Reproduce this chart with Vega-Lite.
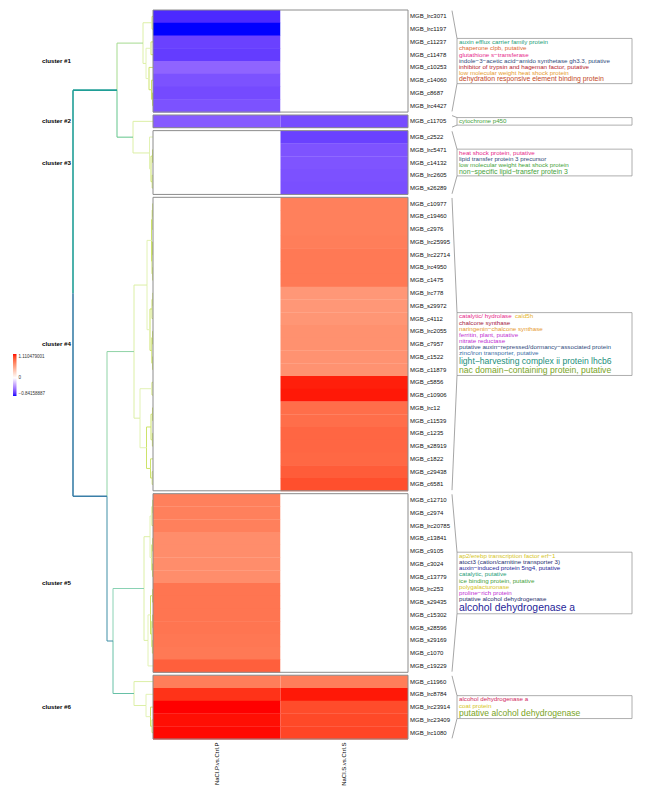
{
"$schema": "https://vega.github.io/schema/vega-lite/v6.json",
"background": "white",
"padding": {"left": 0, "top": 9, "right": 0, "bottom": 0},
"spacing": 0,
"bounds": "flush",
"resolve": {"scale": {"x": "independent", "y": "independent", "color": "independent"}, "legend": {"color": "independent"}},
"datasets": {
"rows": [
{"g":"MGB_lrc3071","cl":1,"i":0,"P":-0.757,"S":0},
{"g":"MGB_lrc1197","cl":1,"i":1,"P":-0.8415,"S":0},
{"g":"MGB_c11237","cl":1,"i":2,"P":-0.682,"S":0},
{"g":"MGB_c11478","cl":1,"i":3,"P":-0.699,"S":0},
{"g":"MGB_c10253","cl":1,"i":4,"P":-0.555,"S":0},
{"g":"MGB_c14060","cl":1,"i":5,"P":-0.623,"S":0},
{"g":"MGB_c8687","cl":1,"i":6,"P":-0.648,"S":0},
{"g":"MGB_lrc4427","cl":1,"i":7,"P":-0.623,"S":0},
{"g":"MGB_c11705","cl":2,"i":8,"P":-0.589,"S":-0.644},
{"g":"MGB_c2522","cl":3,"i":9,"P":0,"S":-0.682},
{"g":"MGB_lrc5471","cl":3,"i":10,"P":0,"S":-0.618},
{"g":"MGB_c14132","cl":3,"i":11,"P":0,"S":-0.615},
{"g":"MGB_lrc2605","cl":3,"i":12,"P":0,"S":-0.625},
{"g":"MGB_s26289","cl":3,"i":13,"P":0,"S":-0.632},
{"g":"MGB_c10977","cl":4,"i":14,"P":0,"S":0.722},
{"g":"MGB_c19460","cl":4,"i":15,"P":0,"S":0.722},
{"g":"MGB_c2976","cl":4,"i":16,"P":0,"S":0.722},
{"g":"MGB_lrc25995","cl":4,"i":17,"P":0,"S":0.733},
{"g":"MGB_lrc22714","cl":4,"i":18,"P":0,"S":0.755},
{"g":"MGB_lrc4950","cl":4,"i":19,"P":0,"S":0.755},
{"g":"MGB_c1475","cl":4,"i":20,"P":0,"S":0.755},
{"g":"MGB_lrc778","cl":4,"i":21,"P":0,"S":0.600},
{"g":"MGB_s29972","cl":4,"i":22,"P":0,"S":0.600},
{"g":"MGB_c4112","cl":4,"i":23,"P":0,"S":0.605},
{"g":"MGB_lrc2055","cl":4,"i":24,"P":0,"S":0.633},
{"g":"MGB_c7957","cl":4,"i":25,"P":0,"S":0.633},
{"g":"MGB_c1522","cl":4,"i":26,"P":0,"S":0.627},
{"g":"MGB_c11879","cl":4,"i":27,"P":0,"S":0.627},
{"g":"MGB_c5856","cl":4,"i":28,"P":0,"S":1.077},
{"g":"MGB_c10906","cl":4,"i":29,"P":0,"S":1.088},
{"g":"MGB_lrc12","cl":4,"i":30,"P":0,"S":0.811},
{"g":"MGB_c11539","cl":4,"i":31,"P":0,"S":0.811},
{"g":"MGB_c1235","cl":4,"i":32,"P":0,"S":0.844},
{"g":"MGB_s28919","cl":4,"i":33,"P":0,"S":0.844},
{"g":"MGB_c1822","cl":4,"i":34,"P":0,"S":0.838},
{"g":"MGB_c29438","cl":4,"i":35,"P":0,"S":0.888},
{"g":"MGB_c6581","cl":4,"i":36,"P":0,"S":0.944},
{"g":"MGB_c12710","cl":5,"i":37,"P":0.722,"S":0},
{"g":"MGB_c2974","cl":5,"i":38,"P":0.722,"S":0},
{"g":"MGB_lrc20785","cl":5,"i":39,"P":0.722,"S":0},
{"g":"MGB_c13841","cl":5,"i":40,"P":0.655,"S":0},
{"g":"MGB_c9105","cl":5,"i":41,"P":0.655,"S":0},
{"g":"MGB_c3024","cl":5,"i":42,"P":0.655,"S":0},
{"g":"MGB_c13779","cl":5,"i":43,"P":0.655,"S":0},
{"g":"MGB_lrc253","cl":5,"i":44,"P":0.777,"S":0},
{"g":"MGB_s29435","cl":5,"i":45,"P":0.777,"S":0},
{"g":"MGB_c15302","cl":5,"i":46,"P":0.777,"S":0},
{"g":"MGB_s28596","cl":5,"i":47,"P":0.777,"S":0},
{"g":"MGB_s29169","cl":5,"i":48,"P":0.766,"S":0},
{"g":"MGB_c1070","cl":5,"i":49,"P":0.755,"S":0},
{"g":"MGB_c19229","cl":5,"i":50,"P":0.877,"S":0},
{"g":"MGB_c11960","cl":6,"i":51,"P":0.733,"S":0.733},
{"g":"MGB_lrc8784","cl":6,"i":52,"P":1.033,"S":1.088},
{"g":"MGB_lrc23914","cl":6,"i":53,"P":1.1104,"S":0.955},
{"g":"MGB_lrc23409","cl":6,"i":54,"P":1.099,"S":0.966},
{"g":"MGB_lrc1080","cl":6,"i":55,"P":1.104,"S":0.977}
],
"clusters": [
{"cl":1,"first":0,"last":7,"lab":"cluster #1"},
{"cl":2,"first":8,"last":8,"lab":"cluster #2"},
{"cl":3,"first":9,"last":13,"lab":"cluster #3"},
{"cl":4,"first":14,"last":36,"lab":"cluster #4"},
{"cl":5,"first":37,"last":50,"lab":"cluster #5"},
{"cl":6,"first":51,"last":55,"lab":"cluster #6"}
],
"ann": [
{"cl":1,"k":0,"txt":"auxin efflux carrier family protein","n":1,"c":"teal"},
{"cl":1,"k":1,"txt":"chaperone clpb, putative","n":1,"c":"orange"},
{"cl":1,"k":2,"txt":"glutathione s−transferase","n":1,"c":"magenta"},
{"cl":1,"k":3,"txt":"indole−3−acetic acid−amido synthetase gh3.3, putative","n":1,"c":"slate"},
{"cl":1,"k":4,"txt":"inhibitor of trypsin and hageman factor, putative","n":1,"c":"crimson"},
{"cl":1,"k":5,"txt":"low molecular weight heat shock protein","n":1,"c":"amber"},
{"cl":1,"k":6,"txt":"dehydration responsive element binding protein","n":2,"c":"rust"},
{"cl":2,"k":0,"txt":"cytochrome p450","n":1,"c":"green"},
{"cl":3,"k":0,"txt":"heat shock protein, putative","n":1,"c":"magenta"},
{"cl":3,"k":1,"txt":"lipid transfer protein 3 precursor","n":1,"c":"slate"},
{"cl":3,"k":2,"txt":"low molecular weight heat shock protein","n":1,"c":"green"},
{"cl":3,"k":3,"txt":"non−specific lipid−transfer protein 3","n":2,"c":"green"},
{"cl":4,"k":0,"txt":"catalytic/ hydrolase","n":1,"c":"magenta","t2":"cald5h","c2":"gold"},
{"cl":4,"k":1,"txt":"chalcone synthase","n":1,"c":"darkred"},
{"cl":4,"k":2,"txt":"naringenin−chalcone synthase","n":1,"c":"amber"},
{"cl":4,"k":3,"txt":"ferritin, plant, putative","n":1,"c":"purple"},
{"cl":4,"k":4,"txt":"nitrate reductase","n":1,"c":"purple"},
{"cl":4,"k":5,"txt":"putative auxin−repressed/dormancy−associated protein","n":1,"c":"slate"},
{"cl":4,"k":6,"txt":"zinc/iron transporter, putative","n":1,"c":"steel"},
{"cl":4,"k":7,"txt":"light−harvesting complex ii protein lhcb6","n":3,"c":"teal2"},
{"cl":4,"k":8,"txt":"nac domain−containing protein, putative","n":3,"c":"olive"},
{"cl":5,"k":0,"txt":"ap2/erebp transcription factor erf−1","n":1,"c":"yellow"},
{"cl":5,"k":1,"txt":"atoct3 (cation/carnitine transporter 3)","n":1,"c":"navy"},
{"cl":5,"k":2,"txt":"auxin−induced protein 5ng4, putative","n":1,"c":"indigo"},
{"cl":5,"k":3,"txt":"catalytic, putative","n":1,"c":"teal"},
{"cl":5,"k":4,"txt":"ice binding protein, putative","n":1,"c":"green"},
{"cl":5,"k":5,"txt":"polygalacturonase","n":1,"c":"yellow"},
{"cl":5,"k":6,"txt":"proline−rich protein","n":1,"c":"purple"},
{"cl":5,"k":7,"txt":"putative alcohol dehydrogenase","n":1,"c":"navy"},
{"cl":5,"k":8,"txt":"alcohol dehydrogenase a","n":5,"c":"indigo"},
{"cl":6,"k":0,"txt":"alcohol dehydrogenase a","n":1,"c":"pink"},
{"cl":6,"k":1,"txt":"coat protein","n":1,"c":"yellow"},
{"cl":6,"k":2,"txt":"putative alcohol dehydrogenase","n":3,"c":"olive"}
],
"dend": [
{"hp":8,"hc":3.6,"ym":22.195,"yc":6.28,"t":"r1"},
{"hp":8,"hc":4.6,"ym":22.195,"yc":38.11,"t":"r2"},
{"hp":3.6,"hc":1.0,"ym":6.28,"yc":2.594,"t":"m1"},
{"hp":3.6,"hc":2.0,"ym":6.28,"yc":9.966,"t":"m2"},
{"hp":4.6,"hc":1.9,"ym":38.11,"yc":26.77,"t":"m3"},
{"hp":4.6,"hc":4.0,"ym":38.11,"yc":49.455,"t":"m4"},
{"hp":4.0,"hc":0.9,"ym":49.455,"yc":45.34,"t":"m5"},
{"hp":4.0,"hc":1.9,"ym":49.455,"yc":53.57,"t":"m6"},
{"hp":2.0,"hc":0,"ym":9.966,"yc":8.727,"t":"l1"},
{"hp":2.0,"hc":0.35,"ym":9.966,"yc":11.204,"t":"l1"},
{"hp":1.0,"hc":0.1,"ym":2.594,"yc":1.0,"t":"l1"},
{"hp":1.0,"hc":0.7,"ym":2.594,"yc":4.1875,"t":"l1"},
{"hp":0.1,"hc":0,"ym":1.0,"yc":0.5,"t":"l3"},
{"hp":0.1,"hc":0,"ym":1.0,"yc":1.5,"t":"l3"},
{"hp":0.7,"hc":0.2,"ym":4.1875,"yc":3.0,"t":"l2"},
{"hp":0.7,"hc":0.4,"ym":4.1875,"yc":5.375,"t":"l2"},
{"hp":0.2,"hc":0,"ym":3.0,"yc":2.5,"t":"l3"},
{"hp":0.2,"hc":0,"ym":3.0,"yc":3.5,"t":"l3"},
{"hp":0.4,"hc":0,"ym":5.375,"yc":4.5,"t":"l3"},
{"hp":0.4,"hc":0.15,"ym":5.375,"yc":6.25,"t":"l3"},
{"hp":0.15,"hc":0,"ym":6.25,"yc":5.5,"t":"l3"},
{"hp":0.15,"hc":0.05,"ym":6.25,"yc":7.0,"t":"l3"},
{"hp":0.05,"hc":0,"ym":7.0,"yc":6.5,"t":"l3"},
{"hp":0.05,"hc":0,"ym":7.0,"yc":7.5,"t":"l3"},
{"hp":0.35,"hc":0,"ym":11.204,"yc":9.954,"t":"l2"},
{"hp":0.35,"hc":0.2,"ym":11.204,"yc":12.454,"t":"l2"},
{"hp":0.2,"hc":0.05,"ym":12.454,"yc":11.454,"t":"l3"},
{"hp":0.2,"hc":0.08,"ym":12.454,"yc":13.454,"t":"l3"},
{"hp":0.05,"hc":0,"ym":11.454,"yc":10.954,"t":"l3"},
{"hp":0.05,"hc":0,"ym":11.454,"yc":11.954,"t":"l3"},
{"hp":0.08,"hc":0,"ym":13.454,"yc":12.954,"t":"l3"},
{"hp":0.08,"hc":0,"ym":13.454,"yc":13.954,"t":"l3"},
{"hp":1.9,"hc":0.6,"ym":26.77,"yc":21.556,"t":"l1"},
{"hp":1.9,"hc":1.3,"ym":26.77,"yc":31.99,"t":"l1"},
{"hp":0.6,"hc":0.15,"ym":21.556,"yc":18.056,"t":"l2"},
{"hp":0.6,"hc":0.3,"ym":21.556,"yc":25.056,"t":"l2"},
{"hp":0.15,"hc":0.08,"ym":18.056,"yc":16.431,"t":"l3"},
{"hp":0.15,"hc":0.1,"ym":18.056,"yc":19.681,"t":"l3"},
{"hp":0.08,"hc":0.03,"ym":16.431,"yc":15.681,"t":"l3"},
{"hp":0.08,"hc":0,"ym":16.431,"yc":17.181,"t":"l3"},
{"hp":0.03,"hc":0,"ym":15.681,"yc":15.181,"t":"l3"},
{"hp":0.03,"hc":0,"ym":15.681,"yc":16.181,"t":"l3"},
{"hp":0.1,"hc":0.04,"ym":19.681,"yc":18.681,"t":"l3"},
{"hp":0.1,"hc":0.03,"ym":19.681,"yc":20.681,"t":"l3"},
{"hp":0.04,"hc":0,"ym":18.681,"yc":18.181,"t":"l3"},
{"hp":0.04,"hc":0,"ym":18.681,"yc":19.181,"t":"l3"},
{"hp":0.03,"hc":0,"ym":20.681,"yc":20.181,"t":"l3"},
{"hp":0.03,"hc":0,"ym":20.681,"yc":21.181,"t":"l3"},
{"hp":0.3,"hc":0.1,"ym":25.056,"yc":23.431,"t":"l3"},
{"hp":0.3,"hc":0.12,"ym":25.056,"yc":26.681,"t":"l3"},
{"hp":0.1,"hc":0.02,"ym":23.431,"yc":22.681,"t":"l3"},
{"hp":0.1,"hc":0,"ym":23.431,"yc":24.181,"t":"l3"},
{"hp":0.02,"hc":0,"ym":22.681,"yc":22.181,"t":"l3"},
{"hp":0.02,"hc":0,"ym":22.681,"yc":23.181,"t":"l3"},
{"hp":0.12,"hc":0.05,"ym":26.681,"yc":25.681,"t":"l3"},
{"hp":0.12,"hc":0.04,"ym":26.681,"yc":27.681,"t":"l3"},
{"hp":0.05,"hc":0,"ym":25.681,"yc":25.181,"t":"l3"},
{"hp":0.05,"hc":0,"ym":25.681,"yc":26.181,"t":"l3"},
{"hp":0.04,"hc":0,"ym":27.681,"yc":27.181,"t":"l3"},
{"hp":0.04,"hc":0,"ym":27.681,"yc":28.181,"t":"l3"},
{"hp":1.3,"hc":0.1,"ym":31.99,"yc":29.681,"t":"l2"},
{"hp":1.3,"hc":0.65,"ym":31.99,"yc":34.306,"t":"l2"},
{"hp":0.1,"hc":0,"ym":29.681,"yc":29.181,"t":"l3"},
{"hp":0.1,"hc":0,"ym":29.681,"yc":30.181,"t":"l3"},
{"hp":0.65,"hc":0.2,"ym":34.306,"yc":32.681,"t":"l3"},
{"hp":0.65,"hc":0.25,"ym":34.306,"yc":35.931,"t":"l3"},
{"hp":0.2,"hc":0.05,"ym":32.681,"yc":31.681,"t":"l3"},
{"hp":0.2,"hc":0.06,"ym":32.681,"yc":33.681,"t":"l3"},
{"hp":0.05,"hc":0,"ym":31.681,"yc":31.181,"t":"l3"},
{"hp":0.05,"hc":0,"ym":31.681,"yc":32.181,"t":"l3"},
{"hp":0.06,"hc":0,"ym":33.681,"yc":33.181,"t":"l3"},
{"hp":0.06,"hc":0,"ym":33.681,"yc":34.181,"t":"l3"},
{"hp":0.25,"hc":0,"ym":35.931,"yc":35.181,"t":"l3"},
{"hp":0.25,"hc":0.08,"ym":35.931,"yc":36.681,"t":"l3"},
{"hp":0.08,"hc":0,"ym":36.681,"yc":36.181,"t":"l3"},
{"hp":0.08,"hc":0,"ym":36.681,"yc":37.181,"t":"l3"},
{"hp":0.9,"hc":0.3,"ym":45.34,"yc":41.28,"t":"l1"},
{"hp":0.9,"hc":0.5,"ym":45.34,"yc":49.408,"t":"l1"},
{"hp":0.3,"hc":0.1,"ym":41.28,"yc":39.658,"t":"l2"},
{"hp":0.3,"hc":0.12,"ym":41.28,"yc":42.908,"t":"l2"},
{"hp":0.1,"hc":0.03,"ym":39.658,"yc":38.908,"t":"l3"},
{"hp":0.1,"hc":0,"ym":39.658,"yc":40.408,"t":"l3"},
{"hp":0.03,"hc":0,"ym":38.908,"yc":38.408,"t":"l3"},
{"hp":0.03,"hc":0,"ym":38.908,"yc":39.408,"t":"l3"},
{"hp":0.12,"hc":0.04,"ym":42.908,"yc":41.908,"t":"l3"},
{"hp":0.12,"hc":0.05,"ym":42.908,"yc":43.908,"t":"l3"},
{"hp":0.04,"hc":0,"ym":41.908,"yc":41.408,"t":"l3"},
{"hp":0.04,"hc":0,"ym":41.908,"yc":42.408,"t":"l3"},
{"hp":0.05,"hc":0,"ym":43.908,"yc":43.408,"t":"l3"},
{"hp":0.05,"hc":0,"ym":43.908,"yc":44.408,"t":"l3"},
{"hp":0.5,"hc":0.25,"ym":49.408,"yc":47.408,"t":"l2"},
{"hp":0.5,"hc":0,"ym":49.408,"yc":51.408,"t":"l2"},
{"hp":0.25,"hc":0.05,"ym":47.408,"yc":45.908,"t":"l3"},
{"hp":0.25,"hc":0.12,"ym":47.408,"yc":48.908,"t":"l3"},
{"hp":0.05,"hc":0,"ym":45.908,"yc":45.408,"t":"l3"},
{"hp":0.05,"hc":0,"ym":45.908,"yc":46.408,"t":"l3"},
{"hp":0.12,"hc":0.04,"ym":48.908,"yc":47.908,"t":"l3"},
{"hp":0.12,"hc":0.06,"ym":48.908,"yc":49.908,"t":"l3"},
{"hp":0.04,"hc":0,"ym":47.908,"yc":47.408,"t":"l3"},
{"hp":0.04,"hc":0,"ym":47.908,"yc":48.408,"t":"l3"},
{"hp":0.06,"hc":0,"ym":49.908,"yc":49.408,"t":"l3"},
{"hp":0.06,"hc":0,"ym":49.908,"yc":50.408,"t":"l3"},
{"hp":1.9,"hc":0,"ym":53.57,"yc":52.635,"t":"l1"},
{"hp":1.9,"hc":0.7,"ym":53.57,"yc":54.51,"t":"l1"},
{"hp":0.7,"hc":0,"ym":54.51,"yc":53.635,"t":"l2"},
{"hp":0.7,"hc":0.25,"ym":54.51,"yc":55.385,"t":"l2"},
{"hp":0.25,"hc":0,"ym":55.385,"yc":54.635,"t":"l3"},
{"hp":0.25,"hc":0.1,"ym":55.385,"yc":56.135,"t":"l3"},
{"hp":0.1,"hc":0,"ym":56.135,"yc":55.635,"t":"l3"},
{"hp":0.1,"hc":0,"ym":56.135,"yc":56.635,"t":"l3"}
]
},
"hconcat": [
{
"width": 153, "height": 729,
"layer": [
{"data": {"name": "dend"}, "mark": {"type": "rule"},
 "encoding": {
  "x": {"field": "hp", "type": "quantitative", "scale": {"domain": [0, 15.3], "reverse": true, "nice": false, "zero": false}, "axis": null},
  "y": {"field": "ym", "type": "quantitative", "scale": {"domain": [0, 57.135], "reverse": true, "nice": false, "zero": false}, "axis": null},
  "y2": {"field": "yc"},
  "color": {"field": "t", "type": "nominal", "legend": null, "scale": {"domain": ["r1","r2","m1","m2","m3","m4","m5","m6","l1","l2","l3"], "range": ["#1f9e96","#3a7fa8","#a5db8f","#62c58b","#8fd3a6","#3f8fa6","#8ad2b4","#67c0a6","#dcefa6","#e2f2b4","#cde36a"]}},
  "strokeWidth": {"condition": {"test": "datum.t == 'r1' || datum.t == 'r2'", "value": 1.6}, "value": 1}
 }},
{"data": {"name": "dend"}, "mark": {"type": "rule"},
 "encoding": {
  "x": {"field": "hp", "type": "quantitative", "scale": {"domain": [0, 15.3], "reverse": true, "nice": false, "zero": false}, "axis": null},
  "x2": {"field": "hc"},
  "y": {"field": "yc", "type": "quantitative", "scale": {"domain": [0, 57.135], "reverse": true, "nice": false, "zero": false}, "axis": null},
  "color": {"field": "t", "type": "nominal", "legend": null, "scale": {"domain": ["r1","r2","m1","m2","m3","m4","m5","m6","l1","l2","l3"], "range": ["#1f9e96","#3a7fa8","#a5db8f","#62c58b","#8fd3a6","#3f8fa6","#8ad2b4","#67c0a6","#dcefa6","#e2f2b4","#cde36a"]}},
  "strokeWidth": {"condition": {"test": "datum.t == 'r1' || datum.t == 'r2'", "value": 1.6}, "value": 1}
 }},
{"data": {"name": "clusters"},
 "transform": [{"calculate": "(datum.first + datum.last + 1) / 2 + (datum.cl - 1) * 0.227", "as": "cy"}],
 "mark": {"type": "text", "align": "right", "baseline": "middle", "fontWeight": "bold", "fontSize": 6.2, "color": "#000", "dx": -1},
 "encoding": {
  "x": {"datum": 8.1, "type": "quantitative", "scale": {"domain": [0, 15.3], "reverse": true, "nice": false, "zero": false}},
  "y": {"field": "cy", "type": "quantitative", "scale": {"domain": [0, 57.135], "reverse": true, "nice": false, "zero": false}, "axis": null},
  "text": {"field": "lab"}
 }}
]
},
{
"width": 255, "height": 729,
"layer": [
{"data": {"name": "rows"},
 "transform": [
  {"fold": ["P", "S"], "as": ["col", "v"]},
  {"calculate": "datum.i + (datum.cl - 1) * 0.227", "as": "y0"},
  {"calculate": "datum.y0 + 1.03", "as": "y1"}
 ],
 "mark": {"type": "rect"},
 "encoding": {
  "x": {"field": "col", "type": "nominal", "scale": {"domain": ["P", "S"], "paddingInner": 0, "paddingOuter": 0},
        "axis": {"title": null, "ticks": false, "domain": false, "labelAngle": 270, "labelAlign": "right", "labelBaseline": "middle", "labelFontSize": 6, "labelColor": "#000", "labelPadding": 3,
                 "labelExpr": "datum.value == 'P' ? 'NaCl.P.vs.Ctrl.P' : 'NaCl.S.vs.Ctrl.S'"}},
  "y": {"field": "y0", "type": "quantitative", "scale": {"domain": [0, 57.135], "reverse": true, "nice": false, "zero": false}, "axis": null},
  "y2": {"field": "y1"},
  "color": {"field": "v", "type": "quantitative",
            "scale": {"domain": [-0.84158887, 0, 1.110479001], "range": ["#0000ff", "#ffffff", "#ff0000"], "interpolate": "lab"},
            "legend": {"title": null, "orient": "none", "legendX": -140, "legendY": 344, "direction": "vertical", "gradientLength": 42, "gradientThickness": 3.5, "gradientStrokeWidth": 0,
                       "values": [-0.84158887, 0, 1.110479001], "format": ".9~f", "labelFontSize": 4.5, "labelOffset": 2, "labelOverlap": false, "labelColor": "#333"}}
 }},
{"data": {"name": "clusters"},
 "transform": [
  {"calculate": "datum.first + (datum.cl - 1) * 0.227", "as": "ct"},
  {"calculate": "datum.last + 1 + (datum.cl - 1) * 0.227", "as": "cb"}
 ],
 "mark": {"type": "rect", "fillOpacity": 0, "stroke": "#8c8c8c", "strokeWidth": 1},
 "encoding": {
  "y": {"field": "ct", "type": "quantitative", "scale": {"domain": [0, 57.135], "reverse": true, "nice": false, "zero": false}, "axis": null},
  "y2": {"field": "cb"}
 }}
]
},
{
"width": 242, "height": 729,
"layer": [
{"data": {"name": "rows"},
 "transform": [{"calculate": "datum.i + 0.5 + (datum.cl - 1) * 0.227", "as": "yy"}],
 "mark": {"type": "text", "align": "left", "baseline": "middle", "fontSize": 6, "color": "#111"},
 "encoding": {
  "x": {"datum": 2, "type": "quantitative", "scale": {"domain": [0, 242], "nice": false, "zero": false}, "axis": null},
  "y": {"field": "yy", "type": "quantitative", "scale": {"domain": [0, 57.135], "reverse": true, "nice": false, "zero": false}, "axis": null},
  "text": {"field": "g"}
 }},
{"data": {"name": "ann"},
 "transform": [
  {"calculate": "datum.n == 1 ? 6.15 : datum.n == 2 ? 6.9 : datum.n == 3 ? 9.2 : 11", "as": "lh"},
  {"aggregate": [{"op": "sum", "field": "lh", "as": "tot"}], "groupby": ["cl"]},
  {"lookup": "cl", "from": {"data": {"name": "clusters"}, "key": "cl", "fields": ["first", "last"]}},
  {"calculate": "(datum.first + datum.last + 1) / 2 + (datum.cl - 1) * 0.227", "as": "cy"},
  {"calculate": "datum.cy - (datum.tot / 2 + 0.7) / 12.759", "as": "b0"},
  {"calculate": "datum.cy + (datum.tot / 2 + 0.7) / 12.759", "as": "b1"},
  {"calculate": "datum.first + 0.05 + (datum.cl - 1) * 0.227", "as": "ct"},
  {"calculate": "datum.last + 0.95 + (datum.cl - 1) * 0.227", "as": "cb"}
 ],
 "layer": [
  {"mark": {"type": "rect", "fillOpacity": 0, "stroke": "#9a9a9a", "strokeWidth": 0.8},
   "encoding": {
    "x": {"datum": 49, "type": "quantitative", "scale": {"domain": [0, 242], "nice": false, "zero": false}, "axis": null},
    "x2": {"datum": 224},
    "y": {"field": "b0", "type": "quantitative", "scale": {"domain": [0, 57.135], "reverse": true, "nice": false, "zero": false}, "axis": null},
    "y2": {"field": "b1"}
   }},
  {"mark": {"type": "rule", "stroke": "#808080", "strokeWidth": 0.7},
   "encoding": {
    "x": {"datum": 44, "type": "quantitative", "scale": {"domain": [0, 242], "nice": false, "zero": false}, "axis": null},
    "x2": {"datum": 49},
    "y": {"field": "ct", "type": "quantitative", "scale": {"domain": [0, 57.135], "reverse": true, "nice": false, "zero": false}, "axis": null},
    "y2": {"field": "b0"}
   }},
  {"mark": {"type": "rule", "stroke": "#808080", "strokeWidth": 0.7},
   "encoding": {
    "x": {"datum": 44, "type": "quantitative", "scale": {"domain": [0, 242], "nice": false, "zero": false}, "axis": null},
    "x2": {"datum": 49},
    "y": {"field": "cb", "type": "quantitative", "scale": {"domain": [0, 57.135], "reverse": true, "nice": false, "zero": false}, "axis": null},
    "y2": {"field": "b1"}
   }}
 ]},
{"data": {"name": "ann"},
 "transform": [
  {"calculate": "datum.n == 1 ? 6.2 : datum.n == 2 ? 6.9 : datum.n == 3 ? 8.6 : 10.4", "as": "fs"},
  {"calculate": "datum.n == 1 ? 6.15 : datum.n == 2 ? 6.9 : datum.n == 3 ? 9.2 : 11", "as": "lh"},
  {"window": [{"op": "sum", "field": "lh", "as": "cum"}], "groupby": ["cl"], "sort": [{"field": "k"}], "frame": [null, 0]},
  {"joinaggregate": [{"op": "sum", "field": "lh", "as": "tot"}], "groupby": ["cl"]},
  {"lookup": "cl", "from": {"data": {"name": "clusters"}, "key": "cl", "fields": ["first", "last"]}},
  {"calculate": "(datum.first + datum.last + 1) / 2 + (datum.cl - 1) * 0.227 + (datum.cum - datum.lh / 2 - datum.tot / 2) / 12.759", "as": "ty"}
 ],
 "layer": [
  {"mark": {"type": "text", "align": "left", "baseline": "middle"},
   "encoding": {
    "x": {"datum": 51, "type": "quantitative", "scale": {"domain": [0, 242], "nice": false, "zero": false}, "axis": null},
    "y": {"field": "ty", "type": "quantitative", "scale": {"domain": [0, 57.135], "reverse": true, "nice": false, "zero": false}, "axis": null},
    "text": {"field": "txt"},
    "size": {"field": "fs", "type": "quantitative", "scale": null, "legend": null},
    "color": {"field": "c", "type": "nominal", "legend": null,
      "scale": {"domain": ["teal","orange","magenta","slate","crimson","amber","rust","green","darkred","purple","steel","teal2","olive","yellow","navy","indigo","pink","gold"],
                "range": ["#1b9e77","#d9682e","#e7298a","#2f4b7c","#b2182b","#e69a2e","#c4471e","#45a23a","#a3203f","#c12fd3","#3a6ea5","#1a8f7c","#7aa41e","#d6c524","#27306f","#1e1e98","#d0265c","#e6b42a"]}}
   }},
  {"transform": [{"filter": "datum.t2 != null"}],
   "mark": {"type": "text", "align": "left", "baseline": "middle", "dx": 56},
   "encoding": {
    "x": {"datum": 51, "type": "quantitative", "scale": {"domain": [0, 242], "nice": false, "zero": false}, "axis": null},
    "y": {"field": "ty", "type": "quantitative", "scale": {"domain": [0, 57.135], "reverse": true, "nice": false, "zero": false}, "axis": null},
    "text": {"field": "t2"},
    "size": {"field": "fs", "type": "quantitative", "scale": null, "legend": null},
    "color": {"field": "c2", "type": "nominal", "legend": null,
      "scale": {"domain": ["teal","orange","magenta","slate","crimson","amber","rust","green","darkred","purple","steel","teal2","olive","yellow","navy","indigo","pink","gold"],
                "range": ["#1b9e77","#d9682e","#e7298a","#2f4b7c","#b2182b","#e69a2e","#c4471e","#45a23a","#a3203f","#c12fd3","#3a6ea5","#1a8f7c","#7aa41e","#d6c524","#27306f","#1e1e98","#d0265c","#e6b42a"]}}
   }}
 ]}
]
}
],
"config": {"view": {"stroke": null}, "font": "Liberation Sans"}
}
